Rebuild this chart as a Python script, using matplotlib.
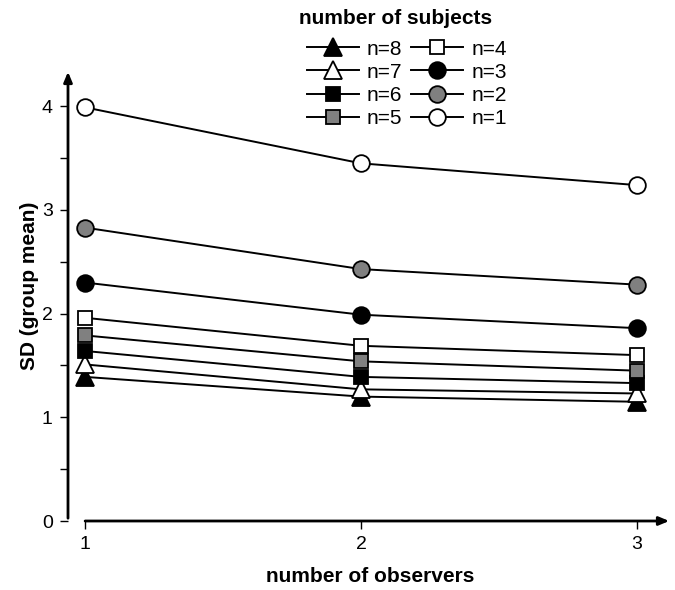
import numpy as np
import matplotlib.pyplot as plt

plt.rcParams['font.family'] = ['Liberation Sans', 'DejaVu Sans']

observers = [1, 2, 3]
labels = ['n=8', 'n=7', 'n=6', 'n=5', 'n=4', 'n=3', 'n=2', 'n=1']
sd_n8 = [1.39, 1.20, 1.15]
sd_n7 = [1.51, 1.27, 1.23]
sd_n6 = [1.64, 1.39, 1.33]
sd_n5 = [1.79, 1.54, 1.45]
sd_n4 = [1.96, 1.69, 1.60]
sd_n3 = [2.30, 1.99, 1.86]
sd_n2 = [2.83, 2.43, 2.28]
sd_n1 = [3.99, 3.45, 3.24]
series = [sd_n8, sd_n7, sd_n6, sd_n5, sd_n4, sd_n3, sd_n2, sd_n1]

styles = [('^', 'black', 13), ('^', 'white', 13), ('s', 'black', 10), ('s', '#808080', 10),
          ('s', 'white', 10), ('o', 'black', 12), ('o', '#808080', 12), ('o', 'white', 12)]

fig = plt.figure(figsize=(6.75, 5.9), dpi=100)
ax = fig.add_axes([68/675, 69/590, 604/675, 452/590])

handles = []
for vals, (m, fc, ms) in zip(series, styles):
    h, = ax.plot(observers, vals, color='black', lw=1.4, marker=m, markersize=ms,
                 markerfacecolor=fc, markeredgecolor='black', markeredgewidth=1.3, zorder=3)
    handles.append(h)

xl = (0.938, 3.127)
yl = (0, 4.36)
ax.set_xlim(*xl)
ax.set_ylim(*yl)
for s in ax.spines.values():
    s.set_visible(False)
ax.annotate('', xy=(xl[0], yl[1]), xytext=(xl[0], 0), xycoords='data',
            arrowprops=dict(arrowstyle='-|>,head_length=0.6,head_width=0.25', color='black', lw=2),
            annotation_clip=False)
ax.annotate('', xy=(xl[1], 0), xytext=(0.99, 0), xycoords='data',
            arrowprops=dict(arrowstyle='-|>,head_length=0.6,head_width=0.25', color='black', lw=2),
            annotation_clip=False)

ax.set_xticks(observers)
ax.set_yticks([0, 1, 2, 3, 4])
ax.set_yticks(np.arange(0.5, 4.0, 1.0), minor=True)
ax.tick_params(axis='both', which='both', direction='out', length=6, width=1, labelsize=14, pad=5)
ax.tick_params(axis='y', which='minor', length=6)
ax.set_xlabel('number of observers', fontsize=15, fontweight='bold', labelpad=10)
ax.set_ylabel('SD (group mean)', fontsize=15, fontweight='bold')
ax.yaxis.set_label_coords(-0.048, 0.52)

fig.text(396/675, 1 - 18/590, 'number of subjects', ha='center', va='center',
         fontsize=15, fontweight='bold')
leg = fig.legend(handles, labels, ncol=2, loc='upper left', bbox_to_anchor=(292/675, 1 - 25/590),
                 frameon=False, fontsize=15, handlelength=2.5, handletextpad=0.4,
                 columnspacing=0.4, labelspacing=0.2, borderpad=0.2)

plt.savefig('out.png', dpi=100)
